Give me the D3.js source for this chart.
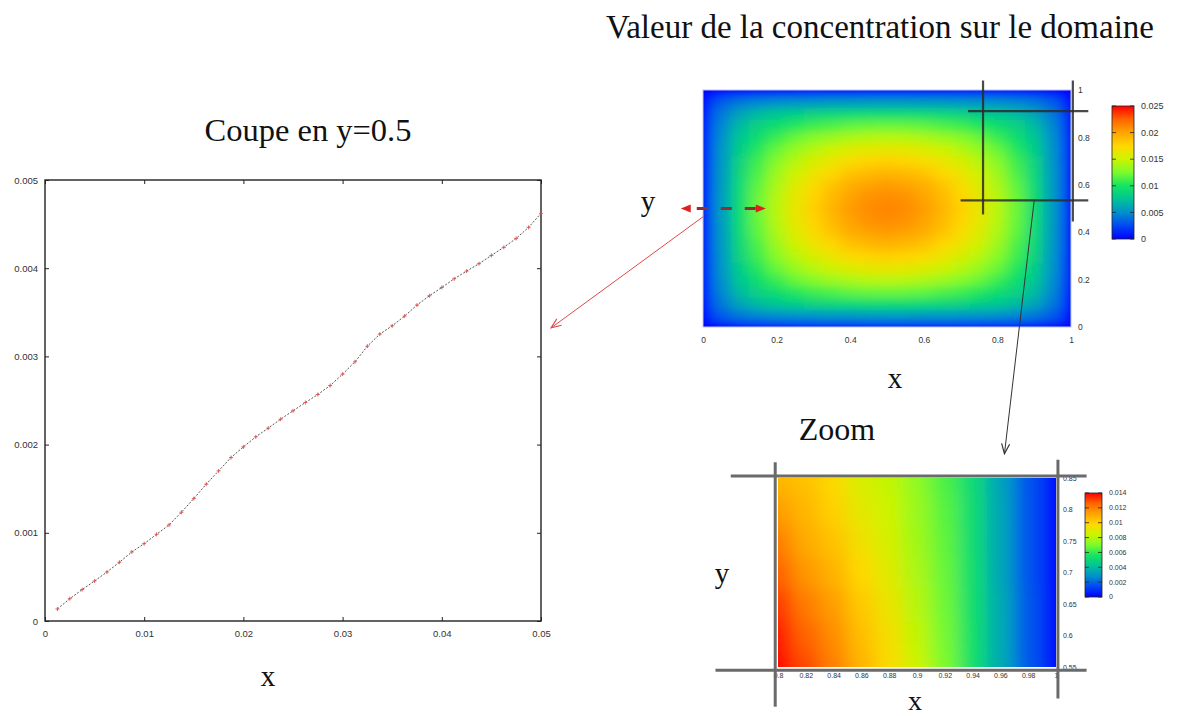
<!DOCTYPE html>
<html>
<head>
<meta charset="utf-8">
<script src="https://cdn.jsdelivr.net/npm/d3@7/dist/d3.min.js"></script>
<style>
body{margin:0;background:#fff;}
svg{display:block;font-family:"Liberation Sans",Arial,sans-serif;}
.serif{font-family:"Liberation Serif","Times New Roman",serif;fill:#111;}
</style>
</head>
<body>
<svg id="chart" width="1177" height="716"></svg>
<script>
// coupe en y=0.5
const cutX = [0.00125,0.0025,0.00375,0.005,0.00625,0.0075,0.00875,0.01,0.01125,0.0125,
  0.01375,0.015,0.01625,0.0175,0.01875,0.02,0.02125,0.0225,0.02375,0.025,
  0.02625,0.0275,0.02875,0.03,0.03125,0.0325,0.03375,0.035,0.03625,0.0375,
  0.03875,0.04,0.04125,0.0425,0.04375,0.045,0.04625,0.0475,0.04875,0.05];
const cutY = [0.000136,0.000253,0.000356,0.000454,0.000556,0.000666,0.000783,0.000877,0.000983,0.001089,
  0.001233,0.001388,0.001551,0.001702,0.001853,0.001974,0.002088,0.002186,0.002288,0.002383,
  0.002477,0.002568,0.002670,0.002799,0.002939,0.003116,0.003253,0.003347,0.003457,0.003582,
  0.003687,0.003782,0.003880,0.003967,0.004051,0.004145,0.004236,0.004338,0.004463,0.004622];
const cutXTicks = [0,0.01,0.02,0.03,0.04,0.05];
const cutYTicks = [0,0.001,0.002,0.003,0.004,0.005];

// concentration sur le domaine, noeuds tous les 0.05 (lignes = y de 0 a 1)
const gridX = [0,0.05,0.1,0.15,0.2,0.25,0.3,0.35,0.4,0.45,0.5,0.55,0.6,0.65,0.7,0.75,0.8,0.85,0.9,0.95,1];
const gridY = [0,0.05,0.1,0.15,0.2,0.25,0.3,0.35,0.4,0.45,0.5,0.55,0.6,0.65,0.7,0.75,0.8,0.85,0.9,0.95,1];
const field = [
  [0,0,0,0,0,0,0,0,0,0,0,0,0,0,0,0,0,0,0,0,0],
  [0,.0032,.0042,.0047,.0050,.0052,.0053,.0055,.0055,.0056,.0056,.0056,.0055,.0055,.0053,.0052,.0050,.0047,.0042,.0032,0],
  [0,.0042,.0060,.0071,.0078,.0083,.0087,.0090,.0092,.0094,.0094,.0094,.0092,.0090,.0087,.0083,.0078,.0071,.0060,.0042,0],
  [0,.0047,.0071,.0085,.0095,.0103,.0110,.0114,.0118,.0120,.0121,.0120,.0118,.0114,.0110,.0103,.0095,.0085,.0071,.0047,0],
  [0,.0050,.0078,.0095,.0109,.0120,.0128,.0135,.0140,.0143,.0144,.0143,.0140,.0135,.0128,.0120,.0109,.0095,.0078,.0050,0],
  [0,.0052,.0083,.0103,.0120,.0133,.0143,.0151,.0158,.0162,.0163,.0162,.0158,.0151,.0143,.0133,.0120,.0103,.0083,.0052,0],
  [0,.0053,.0087,.0110,.0128,.0143,.0155,.0165,.0172,.0177,.0179,.0177,.0172,.0165,.0155,.0143,.0128,.0110,.0087,.0053,0],
  [0,.0055,.0090,.0114,.0135,.0151,.0165,.0175,.0185,.0190,.0192,.0190,.0185,.0175,.0165,.0151,.0135,.0114,.0090,.0055,0],
  [0,.0055,.0092,.0118,.0140,.0158,.0172,.0185,.0195,.0200,.0203,.0200,.0195,.0185,.0172,.0158,.0140,.0118,.0092,.0055,0],
  [0,.0056,.0094,.0120,.0143,.0162,.0177,.0190,.0200,.0207,.0209,.0207,.0200,.0190,.0177,.0162,.0143,.0120,.0094,.0056,0],
  [0,.0056,.0094,.0121,.0144,.0163,.0179,.0192,.0203,.0209,.0212,.0209,.0203,.0192,.0179,.0163,.0144,.0121,.0094,.0056,0],
  [0,.0056,.0094,.0120,.0143,.0162,.0177,.0190,.0200,.0207,.0209,.0207,.0200,.0190,.0177,.0162,.0143,.0120,.0094,.0056,0],
  [0,.0055,.0092,.0118,.0140,.0158,.0172,.0185,.0195,.0200,.0203,.0200,.0195,.0185,.0172,.0158,.0140,.0118,.0092,.0055,0],
  [0,.0055,.0090,.0114,.0135,.0151,.0165,.0175,.0185,.0190,.0192,.0190,.0185,.0175,.0165,.0151,.0135,.0114,.0090,.0055,0],
  [0,.0053,.0087,.0110,.0128,.0143,.0155,.0165,.0172,.0177,.0179,.0177,.0172,.0165,.0155,.0143,.0128,.0110,.0087,.0053,0],
  [0,.0052,.0083,.0103,.0120,.0133,.0143,.0151,.0158,.0162,.0163,.0162,.0158,.0151,.0143,.0133,.0120,.0103,.0083,.0052,0],
  [0,.0050,.0078,.0095,.0109,.0120,.0128,.0135,.0140,.0143,.0144,.0143,.0140,.0135,.0128,.0120,.0109,.0095,.0078,.0050,0],
  [0,.0047,.0071,.0085,.0095,.0103,.0110,.0114,.0118,.0120,.0121,.0120,.0118,.0114,.0110,.0103,.0095,.0085,.0071,.0047,0],
  [0,.0042,.0060,.0071,.0078,.0083,.0087,.0090,.0092,.0094,.0094,.0094,.0092,.0090,.0087,.0083,.0078,.0071,.0060,.0042,0],
  [0,.0032,.0042,.0047,.0050,.0052,.0053,.0055,.0055,.0056,.0056,.0056,.0055,.0055,.0053,.0052,.0050,.0047,.0042,.0032,0],
  [0,0,0,0,0,0,0,0,0,0,0,0,0,0,0,0,0,0,0,0,0]
];
const fieldTicks = [0,0.2,0.4,0.6,0.8,1];
const fieldBarTicks = [0,0.005,0.01,0.015,0.02,0.025];

// zoom sur [0.8,1]x[0.55,0.85]
const zoomX = [0.8,0.82,0.84,0.86,0.88,0.9,0.92,0.94,0.96,0.98,1];
const zoomY = [0.55,0.6,0.65,0.7,0.75,0.8,0.85];
const zoomField = [
  [0.0140,0.0130,0.0120,0.0108,0.0097,0.0084,0.0070,0.0054,0.0035,0.0017,0],
  [0.0137,0.0126,0.0117,0.0105,0.0095,0.0082,0.0069,0.0054,0.0035,0.0017,0],
  [0.0132,0.0121,0.0113,0.0102,0.0092,0.0080,0.0068,0.0053,0.0035,0.0017,0],
  [0.0126,0.0115,0.0108,0.0098,0.0089,0.0078,0.0067,0.0053,0.0034,0.0016,0],
  [0.0120,0.0110,0.0104,0.0094,0.0086,0.0076,0.0066,0.0052,0.0034,0.0016,0],
  [0.0113,0.0107,0.0100,0.0090,0.0084,0.0075,0.0065,0.0052,0.0034,0.0016,0],
  [0.0107,0.0104,0.0097,0.0087,0.0082,0.0073,0.0063,0.0051,0.0033,0.0016,0]
];
const zoomBarTicks = [0,0.002,0.004,0.006,0.008,0.01,0.012,0.014];

const jetStops = [0,0.1,0.2,0.3,0.4,0.5,0.6,0.7,0.8,0.9,1];
const jetColors = ["#0000ff","#0048f4","#0090cc","#00c496","#14e462","#7cfb2c","#ccf400","#ffd800","#ffa400","#ff6400","#ff0000"];
const jet = d3.scaleLinear().domain(jetStops).range(jetColors).clamp(true);
const fmt = d => String(d);

const svg = d3.select('#chart');
const defs = svg.append('defs');

// ---------- coupe ----------
const x = d3.scaleLinear().domain([0,0.05]).range([45,541]);
const y = d3.scaleLinear().domain([0,0.005]).range([621,180]);

svg.append('rect').attr('x',x(0)).attr('y',y(0.005)).attr('width',x(0.05)-x(0)).attr('height',y(0)-y(0.005))
  .attr('fill','none').attr('stroke','#222').attr('stroke-width',1.4);

function styleAxis(g, size){
  g.select('.domain').remove();
  g.selectAll('line').attr('stroke','#222');
  g.selectAll('text').attr('fill','#333').style('font-size', size+'px');
}
svg.append('g').attr('transform',`translate(0,${y(0)})`)
  .call(d3.axisBottom(x).tickValues(cutXTicks).tickFormat(fmt).tickSizeInner(-4).tickSizeOuter(0).tickPadding(9))
  .call(g => styleAxis(g,9.5));
svg.append('g').attr('transform',`translate(${x(0)},0)`)
  .call(d3.axisLeft(y).tickValues(cutYTicks).tickFormat(fmt).tickSizeInner(-4).tickSizeOuter(0).tickPadding(7))
  .call(g => styleAxis(g,9.5));
svg.append('g').attr('transform',`translate(0,${y(0.005)})`)
  .call(d3.axisTop(x).tickValues(cutXTicks).tickFormat('').tickSizeInner(-4).tickSizeOuter(0))
  .call(g => styleAxis(g,9.5));
svg.append('g').attr('transform',`translate(${x(0.05)},0)`)
  .call(d3.axisRight(y).tickValues(cutYTicks).tickFormat('').tickSizeInner(-4).tickSizeOuter(0))
  .call(g => styleAxis(g,9.5));

const cut = cutX.map((v,i) => ({x:v, y:cutY[i]}));
svg.append('path').datum(cut)
  .attr('d', d3.line().x(d => x(d.x)).y(d => y(d.y)))
  .attr('fill','none').attr('stroke','#444').attr('stroke-width',0.9).attr('stroke-dasharray','2,1.6');
svg.append('g').selectAll('path').data(cut).enter().append('path')
  .attr('transform', d => `translate(${x(d.x)},${y(d.y)})`)
  .attr('d','M-2,0H2M0,-2V2')
  .attr('stroke','#e05050').attr('stroke-width',0.9);

svg.append('text').attr('class','serif').attr('x',308).attr('y',141).attr('text-anchor','middle')
  .style('font-size','32.5px').text('Coupe en y=0.5');
svg.append('text').attr('class','serif').attr('x',268).attr('y',686).attr('text-anchor','middle')
  .style('font-size','29px').text('x');

// ---------- domaine ----------
const hx = d3.scaleLinear().domain([0,1]).range([703,1071]);
const hy = d3.scaleLinear().domain([0,1]).range([327,90]);

function heatmap(id, xs, ys, grid, sx, sy, color, blur){
  const cw = Math.abs(sx(xs[1]) - sx(xs[0]));
  const ch = Math.abs(sy(ys[1]) - sy(ys[0]));
  const x0 = sx(xs[0]), x1 = sx(xs[xs.length-1]);
  const y0 = sy(ys[ys.length-1]), y1 = sy(ys[0]);
  defs.append('clipPath').attr('id','clip-'+id).append('rect')
    .attr('x',x0).attr('y',y0).attr('width',x1-x0).attr('height',y1-y0);
  const f = defs.append('filter').attr('id','blur-'+id).attr('filterUnits','userSpaceOnUse')
    .attr('x',x0-cw).attr('y',y0-ch).attr('width',x1-x0+2*cw).attr('height',y1-y0+2*ch);
  f.append('feGaussianBlur').attr('stdDeviation',blur);
  f.append('feComponentTransfer').append('feFuncA').attr('type','table').attr('tableValues','1 1');
  const cells = grid.flatMap((row,j) => row.map((v,i) => ({x:xs[i], y:ys[j], v})));
  svg.append('g').attr('clip-path',`url(#clip-${id})`)
    .append('g').attr('filter',`url(#blur-${id})`)
    .selectAll('rect').data(cells).enter().append('rect')
    .attr('x', d => sx(d.x) - cw/2).attr('y', d => sy(d.y) - ch/2)
    .attr('width', cw+0.5).attr('height', ch+0.5)
    .attr('fill', d => color(d.v));
  return {x0,x1,y0,y1};
}

const hb = heatmap('main', gridX, gridY, field, hx, hy, v => jet(v/0.025), '6.5 4.5');
svg.append('rect').attr('x',hb.x0).attr('y',hb.y0).attr('width',hb.x1-hb.x0).attr('height',hb.y1-hb.y0)
  .attr('fill','none').attr('stroke','#c4c4ee').attr('stroke-width',1);

svg.append('g').attr('transform',`translate(0,${hy(0)})`)
  .call(d3.axisBottom(hx).tickValues(fieldTicks).tickFormat(fmt).tickSize(0).tickPadding(10))
  .call(g => styleAxis(g,8.5));
svg.append('g').attr('transform',`translate(${hx(1)},0)`)
  .call(d3.axisRight(hy).tickValues(fieldTicks).tickFormat(fmt).tickSize(0).tickPadding(7))
  .call(g => styleAxis(g,8.5));

function colorbar(id, max, ticks, sc, bx, bw, size){
  const grad = defs.append('linearGradient').attr('id','grad-'+id)
    .attr('x1',0).attr('y1',1).attr('x2',0).attr('y2',0);
  grad.selectAll('stop').data(jetStops).enter().append('stop')
    .attr('offset', d => d).attr('stop-color', d => jet(d));
  svg.append('rect').attr('x',bx).attr('y',sc(max)).attr('width',bw).attr('height',sc(0)-sc(max))
    .attr('fill',`url(#grad-${id})`).attr('stroke','#222').attr('stroke-width',0.8);
  const g = svg.append('g');
  g.selectAll('line.l').data(ticks).enter().append('line')
    .attr('x1',bx).attr('x2',bx+4).attr('y1',sc).attr('y2',sc).attr('stroke','#222').attr('stroke-width',0.8);
  g.selectAll('line.r').data(ticks).enter().append('line')
    .attr('x1',bx+bw-4).attr('x2',bx+bw).attr('y1',sc).attr('y2',sc).attr('stroke','#222').attr('stroke-width',0.8);
  g.selectAll('text').data(ticks).enter().append('text')
    .attr('x',bx+bw+7).attr('y',sc).attr('dy','0.35em').attr('fill','#333')
    .style('font-size',size+'px').text(fmt);
}
colorbar('main', 0.025, fieldBarTicks, d3.scaleLinear().domain([0,0.025]).range([239,106]), 1112, 22, 9);

// cadre du zoom sur le domaine
const zoomLines = [
  {x1:0.761,y1:1.04,x2:0.761,y2:0.475},
  {x1:0.72,y1:0.911,x2:1.047,y2:0.911},
  {x1:0.70,y1:0.534,x2:1.047,y2:0.534},
  {x1:1.005,y1:1.04,x2:1.005,y2:0.445}
];
svg.append('g').selectAll('line').data(zoomLines).enter().append('line')
  .attr('x1',d => hx(d.x1)).attr('y1',d => hy(d.y1)).attr('x2',d => hx(d.x2)).attr('y2',d => hy(d.y2))
  .attr('stroke','#2a2a2a').attr('stroke-opacity',0.85).attr('stroke-width',2.2);

svg.append('text').attr('class','serif').attr('x',880).attr('y',38).attr('text-anchor','middle')
  .style('font-size','33px').text('Valeur de la concentration sur le domaine');
svg.append('text').attr('class','serif').attr('x',895).attr('y',388).attr('text-anchor','middle')
  .style('font-size','29px').text('x');
svg.append('text').attr('class','serif').attr('x',648).attr('y',211).attr('text-anchor','middle')
  .style('font-size','29px').text('y');

// ---------- zoom ----------
const zx = d3.scaleLinear().domain([0.8,1]).range([778,1056]);
const zy = d3.scaleLinear().domain([0.55,0.85]).range([667,478]);
heatmap('zoom', zoomX, zoomY, zoomField, zx, zy, v => jet(v/0.014), '9 10');

svg.append('g').attr('transform',`translate(0,${zy(0.55)})`)
  .call(d3.axisBottom(zx).tickValues(zoomX).tickFormat(fmt).tickSize(0).tickPadding(6))
  .call(g => styleAxis(g,7));
svg.append('g').attr('transform',`translate(${zx(1)},0)`)
  .call(d3.axisRight(zy).tickValues(zoomY).tickFormat(fmt).tickSize(0).tickPadding(7))
  .call(g => styleAxis(g,7));
colorbar('zoom', 0.014, zoomBarTicks, d3.scaleLinear().domain([0,0.014]).range([597,493]), 1085, 17, 7);

const zoomFrame = [
  {x1:0.798,y1:0.875,x2:0.798,y2:0.487},
  {x1:0.766,y1:0.853,x2:1.022,y2:0.853},
  {x1:0.755,y1:0.545,x2:1.022,y2:0.545},
  {x1:1.0014,y1:0.879,x2:1.0014,y2:0.50}
];
svg.append('g').selectAll('line').data(zoomFrame).enter().append('line')
  .attr('x1',d => zx(d.x1)).attr('y1',d => zy(d.y1)).attr('x2',d => zx(d.x2)).attr('y2',d => zy(d.y2))
  .attr('stroke','#6a6a6a').attr('stroke-width',3);

svg.append('text').attr('class','serif').attr('x',837).attr('y',440).attr('text-anchor','middle')
  .style('font-size','32px').text('Zoom');
svg.append('text').attr('class','serif').attr('x',722).attr('y',583).attr('text-anchor','middle')
  .style('font-size','29px').text('y');
svg.append('text').attr('class','serif').attr('x',915).attr('y',710).attr('text-anchor','middle')
  .style('font-size','28px').text('x');

// ---------- fleches ----------
function arrowMarker(id, color, filled){
  const m = defs.append('marker').attr('id',id).attr('viewBox','0 -5 10 10')
    .attr('refX', filled ? 8 : 9).attr('refY',0).attr('markerUnits','userSpaceOnUse')
    .attr('markerWidth',12).attr('markerHeight',10)
    .attr('orient','auto-start-reverse');
  if(filled) m.append('path').attr('d','M0,-4L10,0L0,4Z').attr('fill',color);
  else m.append('path').attr('d','M0,-4L10,0L0,4').attr('fill','none').attr('stroke',color).attr('stroke-width',1.2);
}
arrowMarker('arr-red','#e04848',false);
arrowMarker('arr-dark','#333',false);
arrowMarker('arr-dash','#e02020',true);

svg.append('line')
  .attr('x1',hx(0)).attr('y1',hy(0.465)).attr('x2',x(0.0511)).attr('y2',y(0.00333))
  .attr('stroke','#e04848').attr('stroke-width',1).attr('marker-end','url(#arr-red)');
svg.append('line')
  .attr('x1',hx(-0.055)).attr('y1',hy(0.5)).attr('x2',hx(0.165)).attr('y2',hy(0.5))
  .attr('stroke','#8e3030').attr('stroke-width',3).attr('stroke-dasharray','0,14,11,13,11,13,11,40')
  .attr('marker-start','url(#arr-dash)').attr('marker-end','url(#arr-dash)');
svg.append('line')
  .attr('x1',hx(0.9)).attr('y1',hy(0.534)).attr('x2',zx(0.963)).attr('y2',zy(0.89))
  .attr('stroke','#333').attr('stroke-width',1).attr('marker-end','url(#arr-dark)');
</script>
</body>
</html>
